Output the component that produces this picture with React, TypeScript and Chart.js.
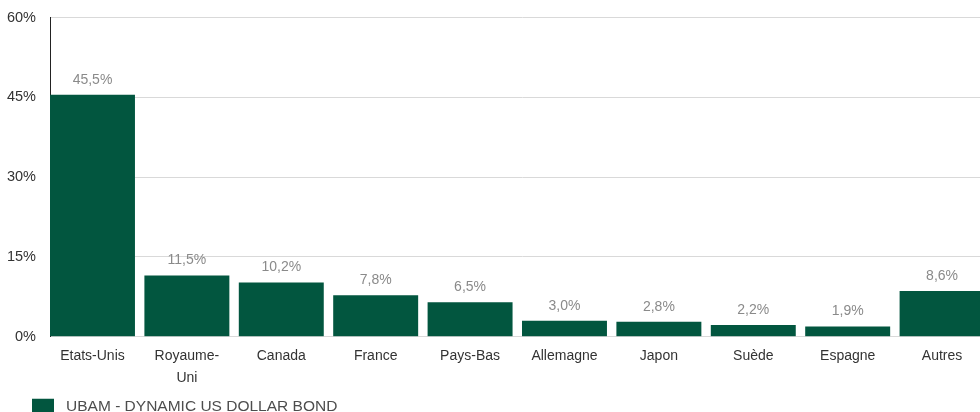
import React, { useEffect, useRef } from "react";
import { Chart, registerables } from "chart.js";

Chart.register(...registerables);

const categories: (string | string[])[] = [
  "Etats-Unis",
  ["Royaume-", "Uni"],
  "Canada",
  "France",
  "Pays-Bas",
  "Allemagne",
  "Japon",
  "Suède",
  "Espagne",
  "Autres",
];
const values = [45.5, 11.5, 10.2, 7.8, 6.5, 3.0, 2.8, 2.2, 1.9, 8.6];
const seriesName = "UBAM - DYNAMIC US DOLLAR BOND";
const yTicks = [0, 15, 30, 45, 60];

const FONT = "'Liberation Sans', Arial, sans-serif";

const valueLabels = {
  id: "valueLabels",
  afterDatasetsDraw(chart: any) {
    const ctx = chart.ctx;
    const meta = chart.getDatasetMeta(0);
    ctx.save();
    ctx.font = `14px ${FONT}`;
    ctx.fillStyle = "#8a8a8a";
    ctx.textAlign = "center";
    ctx.textBaseline = "middle";
    meta.data.forEach((bar: any, i: number) => {
      const txt = values[i].toFixed(1).replace(".", ",") + "%";
      ctx.fillText(txt, bar.x, bar.y - 15);
    });
    ctx.restore();
  },
};

const legendShift = {
  id: "legendShift",
  beforeDraw(chart: any) {
    if (chart.legend) chart.legend.left = 31;
  },
};

export default function App() {
  const ref = useRef<HTMLCanvasElement | null>(null);
  useEffect(() => {
    if (!ref.current) return;
    const chart = new Chart(ref.current, {
      type: "bar",
      data: {
        labels: categories,
        datasets: [
          {
            label: seriesName,
            data: values,
            backgroundColor: "#02563f",
            borderWidth: 0,
            barPercentage: 0.9,
            categoryPercentage: 1.0,
          },
        ],
      },
      options: {
        animation: false,
        responsive: true,
        maintainAspectRatio: false,
        layout: { padding: { left: 0, right: 0, top: 4, bottom: 0 } },
        plugins: {
          tooltip: { enabled: false },
          legend: {
            position: "bottom",
            align: "start",
            labels: {
              boxWidth: 22,
              boxHeight: 15,
              color: "#4d4d4d",
              font: { family: FONT, size: 15.5 },
              padding: 1,
              generateLabels: (chart: any) => {
                const items = Chart.defaults.plugins.legend.labels.generateLabels(chart);
                return items.map((it: any) => ({ ...it, text: " " + it.text }));
              },
            },
          },
        },
        scales: {
          x: {
            grid: { display: false, drawTicks: false },
            border: { display: true, color: "#d9d9d9" },
            afterBuildTicks(axis: any) {
              axis._startValue = -0.45;
              axis._valueRange = 10;
            },
            ticks: {
              color: "#333",
              font: { family: FONT, size: 14, lineHeight: 1.6 },
              padding: 8,
              maxRotation: 0,
              autoSkip: false,
            },
          },
          y: {
            min: 0,
            max: 60,
            afterBuildTicks(axis: any) {
              axis.ticks = yTicks.map((v) => ({ value: v }));
            },
            afterFit(axis: any) {
              axis.width = 50;
            },
            grid: { color: "#d9d9d9", drawTicks: false },
            border: { display: true, color: "#222" },
            ticks: {
              color: "#333",
              font: { family: FONT, size: 14.5 },
              padding: 14,
              callback: (v: any) => `${v}%`,
            },
          },
        },
      },
      plugins: [valueLabels, legendShift],
    });
    return () => chart.destroy();
  }, []);
  return (
    <div
      style={{
        position: "fixed",
        left: 0,
        top: 0,
        width: 980,
        height: 412,
        overflow: "hidden",
        background: "#fff",
      }}
    >
      <div style={{ position: "absolute", left: 0, top: -5, width: 994, height: 429 }}>
        <canvas ref={ref} />
      </div>
    </div>
  );
}
